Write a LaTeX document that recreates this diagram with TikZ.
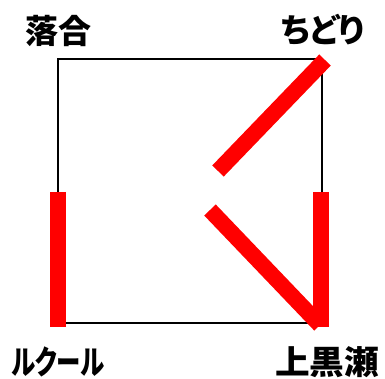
\documentclass[tikz,border=0pt]{standalone}
\usepackage{fontspec}
\usepackage{tikz}
\usetikzlibrary{positioning}
\newfontfamily\jpfont[RawFeature=+palt]{Noto Sans CJK JP}
\definecolor{Rail}{HTML}{FF0000}

\begin{document}
\begin{tikzpicture}[x=1pt,y=-1pt,
    frame/.style={draw=black,line width=2pt},
    track/.style={draw=Rail,line width=16pt},
    station/.style={inner sep=0pt,font=\jpfont\bfseries\fontsize{33}{33}\selectfont}
  ]
    \useasboundingbox (0,0) rectangle (385,379);
    % corners of the loop
    \coordinate (nw) at (58,59);
    \coordinate (ne) at (322,59);
    \coordinate (sw) at (58,323);
    \coordinate (se) at (322,323);
    \draw[frame] (nw) -- (ne) -- (se) -- (sw) -- cycle;
    % red sections
    \coordinate (l1) at (58,192);
    \coordinate (l2) at (58,327);
    \coordinate (r1) at (321,192);
    \coordinate (r2) at (321,327);
    \coordinate (u1) at (325,60);
    \coordinate (u2) at (218,171);
    \coordinate (d1) at (210,210);
    \coordinate (d2) at (320,325);
    \draw[track] (l1) -- (l2);
    \draw[track] (r1) -- (r2);
    \draw[track] (u1) -- (u2);
    \draw[track] (d1) -- (d2);
    % station names
    \node[station] (ochiai) at (58,31) {落合};
    \node[station] (chidori) at (323,30) {ちどり};
    \node[station] (rukuru) at (58,362) {\scalebox{0.74}[1]{ルクール}};
    \node[station] (kamikurose) at (327,362) {\scalebox{1.05}[1]{上黒瀬}};
  \end{tikzpicture}
\end{document}
